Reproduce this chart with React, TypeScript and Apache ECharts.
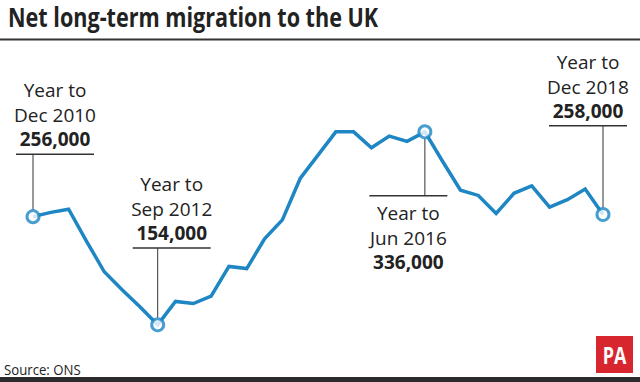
import React, { useEffect, useRef } from "react";
import * as echarts from "echarts";

const periods = [
  "Dec 2010", "Mar 2011", "Jun 2011", "Sep 2011", "Dec 2011",
  "Mar 2012", "Jun 2012", "Sep 2012", "Dec 2012",
  "Mar 2013", "Jun 2013", "Sep 2013", "Dec 2013",
  "Mar 2014", "Jun 2014", "Sep 2014", "Dec 2014",
  "Mar 2015", "Jun 2015", "Sep 2015", "Dec 2015",
  "Mar 2016", "Jun 2016", "Sep 2016", "Dec 2016",
  "Mar 2017", "Jun 2017", "Sep 2017", "Dec 2017",
  "Mar 2018", "Jun 2018", "Sep 2018", "Dec 2018",
];

// thousands
const netMigration = [
  256, 260, 263, 233, 204,
  187, 171, 154, 176,
  174, 181, 209, 207,
  235, 253, 292, 314,
  336, 336, 321, 332,
  327, 336, 308, 281,
  276, 259, 278, 285,
  265, 272, 282, 258,
];

const annotatedIndices = [0, 7, 22, 32];
const annotationHeads = ["Year to", "Year to", "Year to", "Year to"];
const annotationValues = ["256,000", "154,000", "336,000", "258,000"];

// layout offsets (px) relative to the annotated point
const annotationLayout = [
  { dx: 22, dy: -62.4, below: false },
  { dx: 14, dy: -76.7, below: false },
  { dx: -16.5, dy: 64, below: true },
  { dx: -15, dy: -88.7, below: false },
];

const BLUE = "#1d86c3";
const DARK = "#222222";
const FONT = "'Open Sans', 'Noto Sans', sans-serif";

export default function App() {
  const ref = useRef<HTMLDivElement>(null);

  useEffect(() => {
    if (!ref.current) return;
    const chart = echarts.init(ref.current, undefined, { renderer: "svg" });

    chart.setOption({
      animation: false,
      backgroundColor: "#ffffff",
      grid: { left: 33, right: 37, top: 117, bottom: 53 },
      xAxis: {
        type: "category",
        data: periods,
        boundaryGap: false,
        show: false,
      },
      yAxis: {
        type: "value",
        min: 150,
        max: 350,
        show: false,
        splitLine: { show: false },
      },
      series: [
        {
          type: "line",
          data: netMigration,
          showSymbol: false,
          symbol: "none",
          lineStyle: { color: BLUE, width: 3.5, join: "miter" },
          z: 3,
        },
        {
          type: "scatter",
          data: annotatedIndices.map((i) => [i, netMigration[i]]),
          symbol: "circle",
          symbolSize: 12,
          itemStyle: { color: "#ffffff", borderColor: BLUE, borderWidth: 3 },
          z: 5,
        },
      ],
    });

    const graphics: any[] = [
      {
        type: "text",
        x: 8,
        y: 17,
        scaleX: 0.8,
        style: {
          text: "Net long-term migration to the UK",
          fontFamily: FONT,
          fontWeight: 700,
          fontSize: 27,
          fill: DARK,
          verticalAlign: "middle",
          align: "left",
        },
      },
      { type: "rect", shape: { x: 0, y: 38.5, width: 640, height: 2 }, style: { fill: "#333333" } },
      { type: "rect", shape: { x: 0, y: 377, width: 640, height: 5 }, style: { fill: "#2b2b2b" } },
      {
        type: "text",
        x: 4,
        y: 369,
        scaleX: 0.88,
        style: {
          text: "Source: ONS",
          fontFamily: FONT,
          fontSize: 15,
          fill: DARK,
          verticalAlign: "middle",
        },
      },
      { type: "rect", shape: { x: 596, y: 336, width: 37, height: 37 }, style: { fill: "#d8262e" } },
      {
        type: "text",
        x: 614.5,
        y: 355,
        scaleX: 0.78,
        style: {
          text: "PA",
          fontFamily: FONT,
          fontWeight: 700,
          fontSize: 23,
          fill: "#ffffff",
          align: "center",
          verticalAlign: "middle",
        },
      },
    ];

    annotatedIndices.forEach((idx, k) => {
      const p = chart.convertToPixel({ seriesIndex: 0 }, [idx, netMigration[idx]]) as number[];
      const lay = annotationLayout[k];
      const ux = p[0] + lay.dx;
      const uy = p[1] + lay.dy;
      graphics.push({
        type: "line",
        shape: { x1: ux - 39, y1: uy, x2: ux + 39, y2: uy },
        style: { stroke: "#333333", lineWidth: 1.5 },
      });
      graphics.push({
        type: "line",
        shape: { x1: p[0], y1: uy, x2: p[0], y2: p[1] + (lay.below ? 7 : -7) },
        style: { stroke: "#333333", lineWidth: 1 },
      });
      const offs = lay.below ? [17, 42.5, 66] : [-64, -39, -15];
      const texts = [annotationHeads[k], periods[idx], annotationValues[k]];
      texts.forEach((t, j) => {
        graphics.push({
          type: "text",
          x: ux,
          y: uy + offs[j],
          style: {
            text: t,
            fontFamily: FONT,
            fontWeight: j === 2 ? 700 : 400,
            fontSize: 19,
            fill: DARK,
            align: "center",
            verticalAlign: "middle",
          },
        });
      });
    });

    chart.setOption({ graphic: graphics });

    return () => chart.dispose();
  }, []);

  return (
    <div
      ref={ref}
      style={{ position: "fixed", left: 0, top: 0, width: 640, height: 382 }}
    />
  );
}
